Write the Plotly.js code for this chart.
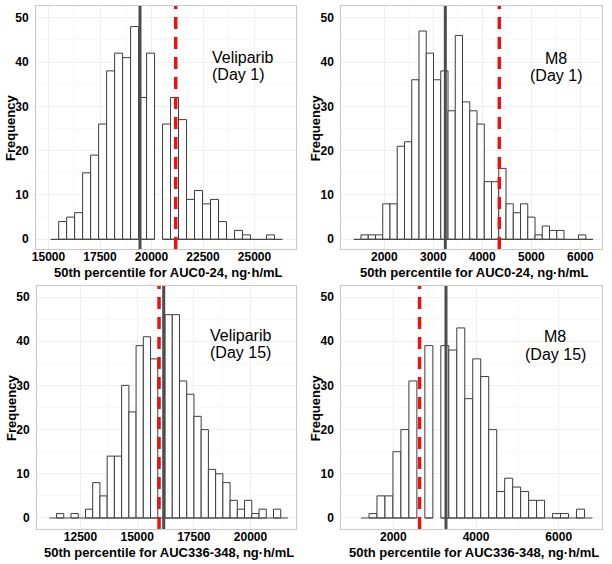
<!DOCTYPE html>
<html><head><meta charset="utf-8">
<script src="https://cdn.plot.ly/plotly-3.0.1.min.js"></script>
<style>html,body{margin:0;padding:0;background:#fff}#chart{width:612px;height:564px}</style>
</head><body><div id="chart"></div>
<script>
// ---- Panel 1: Veliparib (Day 1), AUC0-24 ----
const p1BinStart = 15105;
const p1BinWidth = 388;
const p1Counts = [0,4,5,6,15,19,26,38,42,41,48,32,42,null,26,32,27,9,11,8,9,4,0,2,1,0,0,1,0];
const p1SolidLine = 19442;
const p1DashedLine = 21175;
const p1Ticks = [15000,17500,20000,22500,25000];

// ---- Panel 2: M8 (Day 1), AUC0-24 ----
const p2BinStart = 1376;
const p2BinWidth = 148;
const p2Counts = [0,1,1,1,8,8,21,22,36,47,42,36,38,29,46,31,29,26,13,13,16,8,6,8,5,1,3,2,2,0,0,1,0];
const p2SolidLine = 3245;
const p2DashedLine = 4347;
const p2Ticks = [2000,3000,4000,5000,6000];

// ---- Panel 3: Veliparib (Day 15), AUC336-348 ----
const p3BinStart = 11124;
const p3BinWidth = 319;
const p3Counts = [0,1,0,1,0,2,8,5,14,14,30,24,39,41,36,0,46,46,31,28,23,20,11,10,8,4,2,4,1,2,0,2,0];
const p3SolidLine = 16170;
const p3DashedLine = 15965;
const p3Ticks = [12500,15000,17500,20000];

// ---- Panel 4: M8 (Day 15), AUC336-348 ----
const p4BinStart = 1219;
const p4BinWidth = 193;
const p4Counts = [0,1,5,5,15,20,31,null,39,null,39,38,43,27,36,32,20,6,9,7,6,4,4,0,1,1,0,2,0];
const p4SolidLine = 3274;
const p4DashedLine = 2635;
const p4Ticks = [2000,4000,6000];

const yTicks = [0,10,20,30,40,50];
const panelLabels = [["Veliparib","(Day 1)"],["M8","(Day 1)"],["Veliparib","(Day 15)"],["M8","(Day 15)"]];
const xTitles = ["50th percentile for AUC0-24, ng\u00b7h/mL","50th percentile for AUC0-24, ng\u00b7h/mL",
                 "50th percentile for AUC336-348, ng\u00b7h/mL","50th percentile for AUC336-348, ng\u00b7h/mL"];
const yTitle = "Frequency";

const panels = [
  {start:p1BinStart,w:p1BinWidth,counts:p1Counts,solid:p1SolidLine,dashed:p1DashedLine,ticks:p1Ticks},
  {start:p2BinStart,w:p2BinWidth,counts:p2Counts,solid:p2SolidLine,dashed:p2DashedLine,ticks:p2Ticks},
  {start:p3BinStart,w:p3BinWidth,counts:p3Counts,solid:p3SolidLine,dashed:p3DashedLine,ticks:p3Ticks},
  {start:p4BinStart,w:p4BinWidth,counts:p4Counts,solid:p4SolidLine,dashed:p4DashedLine,ticks:p4Ticks}
];

// layout geometry (pixels)
const W = 612, H = 564;
const boxes = [
  {l:36, r:296, t:6, b:249, xr:[14393,27015], yr:[-2.19,52.64]},
  {l:341.3, r:602, t:6, b:249, xr:[1122,6443], yr:[-2.19,52.64]},
  {l:37, r:296, t:286, b:529, xr:[10581,22006], yr:[-2.49,52.49]},
  {l:341.3, r:602, t:286, b:529, xr:[742,7047], yr:[-2.49,52.49]}
];
const labelPos = [
  {x:0.669, ya:0.788, yb:0.719, align:'left'},
  {x:0.825, ya:0.782, yb:0.714, align:'center'},
  {x:0.787, ya:0.796, yb:0.725, align:'center'},
  {x:0.820, ya:0.791, yb:0.718, align:'center'}
];

const FONT = "Liberation Sans, Arial, Helvetica, sans-serif";
const traces = [];
const layout = {
  width: W, height: H, margin:{l:0,r:0,t:0,b:0},
  paper_bgcolor:'#fff', plot_bgcolor:'#fff', showlegend:false,
  bargap:0, barmode:'overlay',
  shapes:[], annotations:[]
};

panels.forEach((p,k)=>{
  const n = k+1;
  const xa = n===1 ? 'x' : 'x'+n, ya = n===1 ? 'y' : 'y'+n;
  const xKey = n===1 ? 'xaxis' : 'xaxis'+n, yKey = n===1 ? 'yaxis' : 'yaxis'+n;
  const bx = [], by = [];
  p.counts.forEach((c,i)=>{ if(c!==null && c>0){ bx.push(p.start + (i+0.5)*p.w); by.push(c); } });
  traces.push({type:'bar', x:bx, y:by, width:p.w, xaxis:xa, yaxis:ya,
    marker:{color:'#ffffff', line:{color:'#3c3c3c', width:1}}, hoverinfo:'skip'});
  // baseline (zero-count bins drawn flat)
  const lx=[], ly=[]; let open=false;
  p.counts.forEach((c,i)=>{
    if(c===null){ if(open){lx.push(null); ly.push(null); open=false;} return; }
    if(!open){ lx.push(p.start + i*p.w); ly.push(0); open=true; }
    lx.push(p.start + (i+1)*p.w); ly.push(0);
  });
  traces.push({type:'scatter', mode:'lines', x:lx, y:ly, xaxis:xa, yaxis:ya,
    line:{color:'#4a4a4a', width:1.2}, hoverinfo:'skip', connectgaps:false});

  const b = boxes[k];
  layout[xKey] = {
    domain:[b.l/W, b.r/W], range:b.xr, anchor:ya, tickmode:'array', tickvals:p.ticks,
    ticktext:p.ticks.map(String), exponentformat:'none',
    ticks:'', ticklen:0, ticklabelstandoff:-3,
    tickfont:{family:FONT, size:12, color:'#000', weight:'bold'},
    showgrid:true, gridcolor:'#efefef', gridwidth:1,
    minor:{tickvals:p.ticks.slice(0,-1).map((t,i)=>(t+p.ticks[i+1])/2), showgrid:true, gridcolor:'#f6f6f6', gridwidth:0.8},
    zeroline:false, showline:true, mirror:true, linecolor:'#c8c8c8', linewidth:1, fixedrange:true
  };
  layout[yKey] = {
    domain:[1-b.b/H, 1-b.t/H], range:b.yr, anchor:xa, tickmode:'array', tickvals:yTicks,
    ticktext:yTicks.map(String),
    ticks:'outside', ticklen:4, tickcolor:'rgba(0,0,0,0)',
    tickfont:{family:FONT, size:12, color:'#000', weight:'bold'},
    showgrid:true, gridcolor:'#efefef', gridwidth:1,
    minor:{tickvals:[5,15,25,35,45], showgrid:true, gridcolor:'#f6f6f6', gridwidth:0.8},
    zeroline:false, showline:true, mirror:true, linecolor:'#c8c8c8', linewidth:1, fixedrange:true
  };
  // vertical reference lines
  layout.shapes.push({type:'line', xref:xa, yref:ya+' domain', x0:p.solid, x1:p.solid, y0:0, y1:1,
    line:{color:'#4d4d4d', width:3}});
  layout.shapes.push({type:'line', xref:xa, yref:ya+' domain', x0:p.dashed, x1:p.dashed, y0:0, y1:1,
    line:{color:'#ee1111', width:3.5, dash:'12px,8px'}});
  // panel labels
  const lp = labelPos[k];
  const lab = panelLabels[k];
  const xanchor = lp.align==='left' ? 'left' : 'center';
  layout.annotations.push({xref:xa+' domain', yref:ya+' domain', x:lp.x, y:lp.ya, text:lab[0], showarrow:false,
    xanchor:xanchor, yanchor:'middle', font:{family:FONT, size:16, color:'#000'}});
  layout.annotations.push({xref:xa+' domain', yref:ya+' domain', x:lp.x, y:lp.yb, text:lab[1], showarrow:false,
    xanchor:xanchor, yanchor:'middle', font:{family:FONT, size:16, color:'#000'}});
  // axis titles
  layout.annotations.push({xref:'paper', yref:'paper', x:((b.l+b.r)/2+2.5)/W, y:1-(b.b+23.5)/H, text:xTitles[k],
    showarrow:false, xanchor:'center', yanchor:'middle', font:{family:FONT, size:13, color:'#000', weight:'bold'}});
  layout.annotations.push({xref:'paper', yref:'paper', x:(b.l-25.5)/W, y:1-((b.t+b.b)/2)/H, text:yTitle,
    showarrow:false, textangle:-90, xanchor:'center', yanchor:'middle', font:{family:FONT, size:13, color:'#000', weight:'bold'}});
});

Plotly.newPlot('chart', traces, layout, {displayModeBar:false, staticPlot:true});
</script></body></html>
